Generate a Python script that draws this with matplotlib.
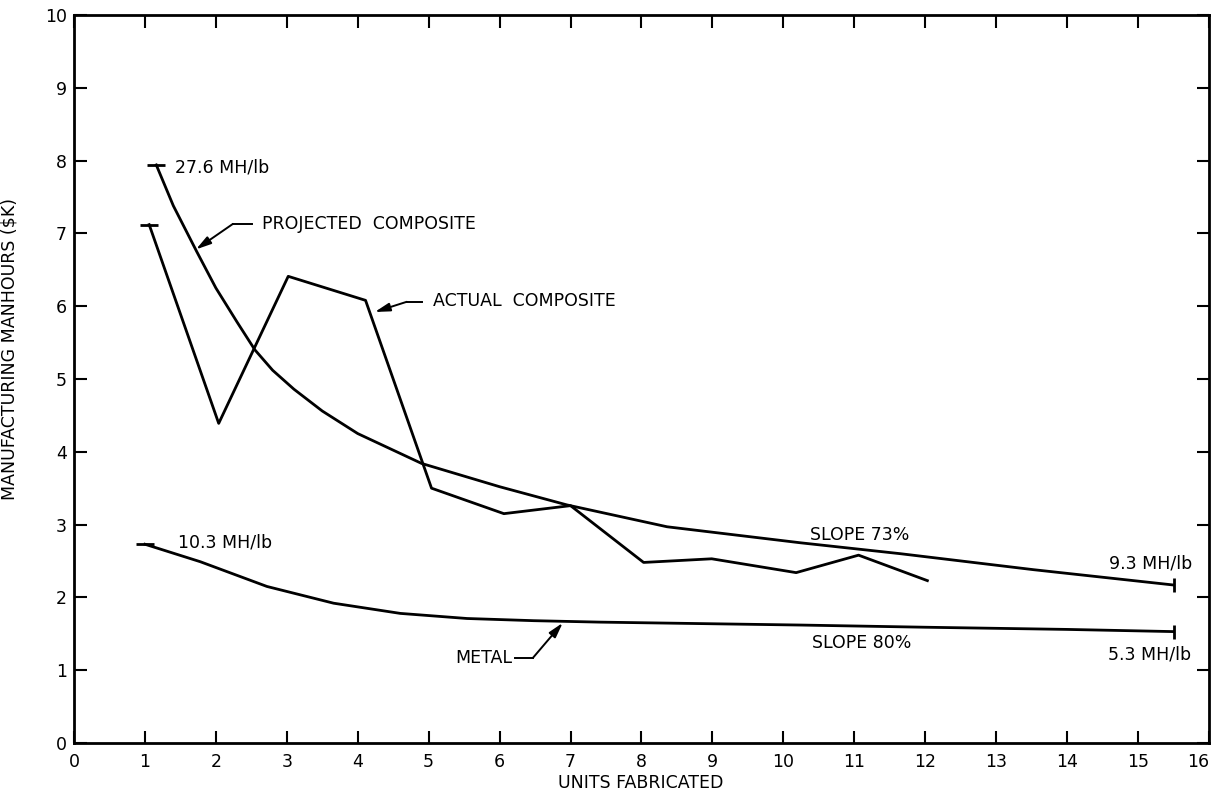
import matplotlib.pyplot as plt

# values
proj_x = [1.16, 1.40, 1.73, 2.00, 2.30, 2.55, 2.80, 3.10, 3.50, 4.00, 4.90, 6.00, 6.95, 8.36, 10.24, 11.65, 13.53, 15.5]
proj_y = [7.94, 7.38, 6.75, 6.25, 5.78, 5.40, 5.12, 4.86, 4.56, 4.25, 3.84, 3.52, 3.27, 2.97, 2.75, 2.60, 2.38, 2.17]

act_x = [1.06, 2.04, 3.02, 4.11, 5.04, 6.06, 7.00, 8.03, 8.99, 10.18, 11.06, 12.03]
act_y = [7.12, 4.39, 6.41, 6.08, 3.50, 3.15, 3.26, 2.48, 2.53, 2.34, 2.58, 2.23]

metal_x = [1.0, 1.78, 2.72, 3.66, 4.60, 5.54, 6.48, 7.42, 10.24, 12.0, 14.0, 15.5]
metal_y = [2.73, 2.49, 2.15, 1.92, 1.78, 1.71, 1.68, 1.66, 1.62, 1.59, 1.56, 1.53]

x_ticks = list(range(0, 17))
y_ticks = list(range(0, 11))

plt.rcParams['font.family'] = ['DejaVu Sans']

fig = plt.figure(figsize=(12.13, 7.96), dpi=100)
ax = fig.add_axes([0.061, 0.0666, 0.9357, 0.9146])

lw = 2.0
ax.plot(proj_x, proj_y, color='black', lw=lw)
ax.plot(act_x, act_y, color='black', lw=lw)
ax.plot(metal_x, metal_y, color='black', lw=lw)

# start caps and end ticks
for xs, ys in [(proj_x, proj_y), (act_x, act_y), (metal_x, metal_y)]:
    ax.plot(xs[0], ys[0], marker='_', markersize=13, mew=lw, color='black')
for xs, ys in [(proj_x, proj_y), (metal_x, metal_y)]:
    ax.plot(xs[-1], ys[-1], marker='|', markersize=10, mew=lw, color='black')

fs = 12.5
ax.text(1.42, 7.91, '27.6 MH/lb', fontsize=fs, va='center', ha='left')
ax.text(1.47, 2.75, '10.3 MH/lb', fontsize=fs, va='center', ha='left')
ax.text(10.37, 2.86, 'SLOPE 73%', fontsize=fs, va='center', ha='left')
ax.text(15.77, 2.47, '9.3 MH/lb', fontsize=fs, va='center', ha='right')
ax.text(10.40, 1.37, 'SLOPE 80%', fontsize=fs, va='center', ha='left')
ax.text(15.75, 1.21, '5.3 MH/lb', fontsize=fs, va='center', ha='right')

arrow = dict(arrowstyle='-|>,head_width=0.25,head_length=0.9', color='black',
             lw=1.4, shrinkA=0, shrinkB=0)

# PROJECTED COMPOSITE
ax.text(2.65, 7.13, 'PROJECTED  COMPOSITE', fontsize=fs, va='center', ha='left')
ax.plot([2.24, 2.51], [7.13, 7.13], color='black', lw=1.4)
ax.annotate('', xy=(1.72, 6.78), xytext=(2.24, 7.13), arrowprops=arrow)

# ACTUAL COMPOSITE
ax.text(5.06, 6.07, 'ACTUAL  COMPOSITE', fontsize=fs, va='center', ha='left')
ax.plot([4.69, 4.91], [6.06, 6.06], color='black', lw=1.4)
ax.annotate('', xy=(4.24, 5.92), xytext=(4.69, 6.06), arrowprops=arrow)

# METAL
ax.text(5.37, 1.17, 'METAL', fontsize=fs, va='center', ha='left')
ax.plot([6.22, 6.47], [1.17, 1.17], color='black', lw=1.4)
ax.annotate('', xy=(6.89, 1.65), xytext=(6.47, 1.17), arrowprops=arrow)

ax.set_xlim(0, 16)
ax.set_ylim(0, 10)
ax.set_xticks(x_ticks)
ax.set_yticks(y_ticks)
ax.tick_params(direction='in', length=9, width=1.5, labelsize=fs,
               top=True, right=True)
ax.tick_params(axis='x', pad=7)
ax.tick_params(axis='y', pad=5)
ax.get_xticklabels()[-1].set_ha('right')
for s in ax.spines.values():
    s.set_linewidth(2.0)

ax.set_xlabel('UNITS FABRICATED', fontsize=fs)
ax.xaxis.set_label_coords(0.499, -0.043)
ax.set_ylabel('MANUFACTURING MANHOURS ($K)', fontsize=fs)
ax.yaxis.set_label_coords(-0.049, 0.541)

fig.savefig('out.png', dpi=100)
